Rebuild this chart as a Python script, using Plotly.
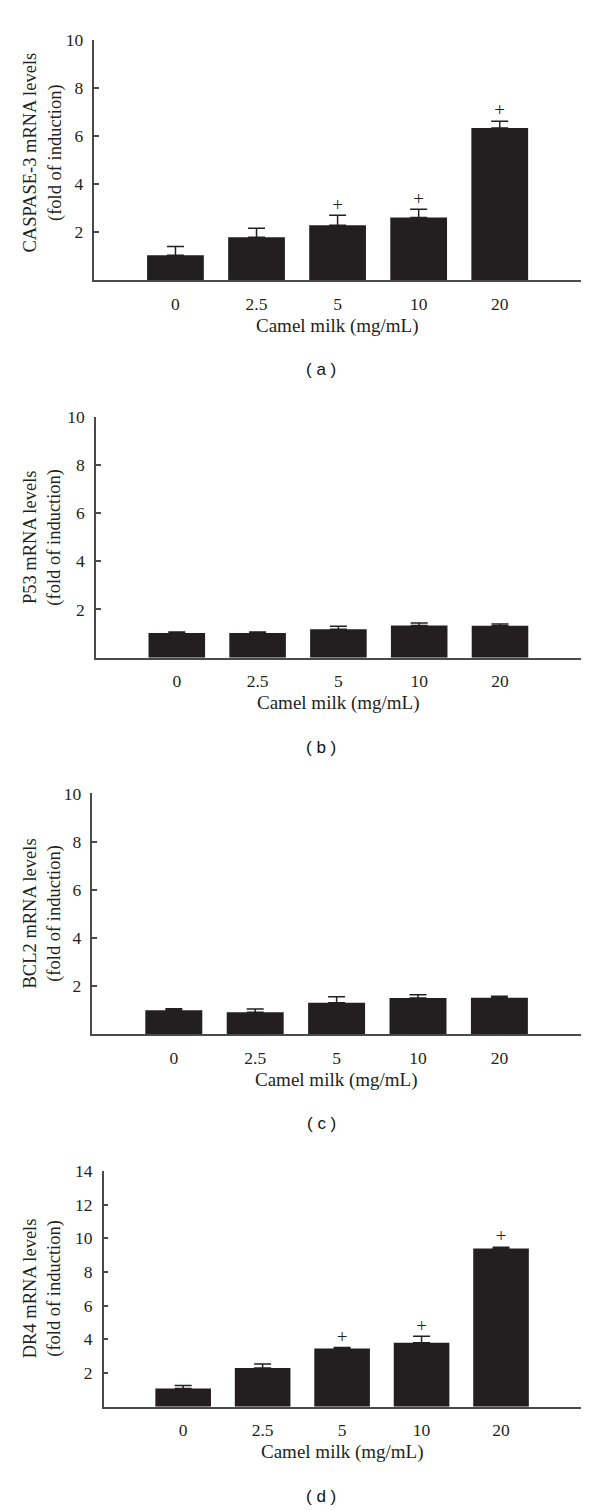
import plotly.graph_objects as go

# ---------------- data ----------------
doses = ["0", "2.5", "5", "10", "20"]

casp3_mean = [1.03, 1.78, 2.28, 2.60, 6.33]
casp3_err = [0.36, 0.37, 0.41, 0.34, 0.28]
casp3_sig = ["", "", "+", "+", "+"]

p53_mean = [1.02, 1.02, 1.18, 1.33, 1.32]
p53_err = [0.05, 0.05, 0.12, 0.11, 0.08]
p53_sig = ["", "", "", "", ""]

bcl2_mean = [1.00, 0.92, 1.32, 1.51, 1.52]
bcl2_err = [0.07, 0.14, 0.25, 0.14, 0.07]
bcl2_sig = ["", "", "", "", ""]

dr4_mean = [1.08, 2.30, 3.46, 3.79, 9.39]
dr4_err = [0.18, 0.23, 0.06, 0.39, 0.08]
dr4_sig = ["", "", "+", "+", "+"]

panels = [
    dict(mean=casp3_mean, err=casp3_err, sig=casp3_sig, ymax=10,
         yticks=[2, 4, 6, 8, 10], ytitle="CASPASE-3 mRNA levels<br>(fold of induction)",
         label="( a )", px_x=(94.4, 580.8), px_y=(30.0, 271.7), ytitle_y=144),
    dict(mean=p53_mean, err=p53_err, sig=p53_sig, ymax=10,
         yticks=[2, 4, 6, 8, 10], ytitle="P53 mRNA levels<br>(fold of induction)",
         label="( b )", px_x=(96.0, 580.8), px_y=(409.3, 652.0), ytitle_y=None),
    dict(mean=bcl2_mean, err=bcl2_err, sig=bcl2_sig, ymax=10,
         yticks=[2, 4, 6, 8, 10], ytitle="BCL2 mRNA levels<br>(fold of induction)",
         label="( c )", px_x=(92.4, 580.8), px_y=(788.7, 1031.3), ytitle_y=None),
    dict(mean=dr4_mean, err=dr4_err, sig=dr4_sig, ymax=14,
         yticks=[2, 4, 6, 8, 10, 12, 14], ytitle="DR4 mRNA levels<br>(fold of induction)",
         label="( d )", px_x=(103.7, 580.5), px_y=(1168.7, 1406.0), ytitle_y=None),
]

W, H = 600, 1510
INK = "#231f20"
AXC = "#4a4a4a"
SERIF = "Liberation Serif, Times New Roman, serif"
SANS = "Liberation Sans, Arial, sans-serif"

fig = go.Figure()
layout = dict(
    width=W, height=H,
    margin=dict(l=0, r=0, t=0, b=0),
    paper_bgcolor="white", plot_bgcolor="white",
    showlegend=False,
    font=dict(family=SERIF, color=INK),
)
annotations = []

def px2x(p):
    return p / W

def px2y(p):
    return 1 - p / H

for i, p in enumerate(panels, start=1):
    xa = "x" if i == 1 else f"x{i}"
    ya = "y" if i == 1 else f"y{i}"
    xkey = "xaxis" if i == 1 else f"xaxis{i}"
    ykey = "yaxis" if i == 1 else f"yaxis{i}"

    fig.add_trace(go.Bar(
        x=doses, y=p["mean"], xaxis=xa, yaxis=ya,
        marker=dict(color=INK, line=dict(width=0)),
        width=0.7,
        error_y=dict(type="data", symmetric=False, array=p["err"],
                     arrayminus=[0] * len(p["err"]),
                     color=INK, thickness=1.5, width=8.5),
    ))
    tops = [m + e for m, e in zip(p["mean"], p["err"])]
    if any(p["sig"]):
        fig.add_trace(go.Scatter(
            x=doses, y=tops, xaxis=xa, yaxis=ya, mode="text",
            text=p["sig"], textposition="top center",
            textfont=dict(family=SERIF, size=19, color=INK),
            cliponaxis=False, hoverinfo="skip",
        ))

    x0, x1 = p["px_x"]
    ytop, ybot = p["px_y"]
    layout[xkey] = dict(
        domain=[px2x(x0), px2x(x1)], anchor=ya,
        type="category", range=[-1, 5],
        showline=True, linecolor=AXC, linewidth=1.5,
        ticks="", showgrid=False, zeroline=False,
        tickfont=dict(family=SERIF, size=17.5, color=INK),
        ticklabelstandoff=7,
    )
    layout[ykey] = dict(
        domain=[px2y(ybot), px2y(ytop)], anchor=xa,
        range=[0, p["ymax"]], tickvals=p["yticks"],
        showline=True, linecolor=AXC, linewidth=1.5,
        ticks="inside", ticklen=5, tickwidth=1.5, tickcolor=AXC,
        showgrid=False, zeroline=False,
        tickfont=dict(family=SERIF, size=17.5, color=INK),
        ticklabelstandoff=6,
    )

    # y title
    yc = p["ytitle_y"] if p["ytitle_y"] is not None else (ytop + ybot) / 2
    annotations.append(dict(
        text=p["ytitle"], textangle=-90, xref="paper", yref="paper",
        x=px2x(42.5), y=px2y(yc), xanchor="center", yanchor="middle",
        showarrow=False, font=dict(family=SERIF, size=18.5, color=INK),
    ))
    # x title
    annotations.append(dict(
        text="Camel milk (mg/mL)", xref="paper", yref="paper",
        x=px2x((x0 + x1) / 2), y=px2y(ybot + 46), xanchor="center", yanchor="middle",
        showarrow=False, font=dict(family=SERIF, size=19, color=INK),
    ))
    # panel label
    annotations.append(dict(
        text=p["label"], xref="paper", yref="paper",
        x=px2x(321), y=px2y(ybot + 90), xanchor="center", yanchor="middle",
        showarrow=False, font=dict(family=SANS, size=17, color="#111111"),
    ))

layout["annotations"] = annotations
fig.update_layout(**layout)
fig.write_html(
    "out.html",
    config={"displayModeBar": False},
    post_script="document.body.style.margin='0';document.body.style.overflow='hidden';",
)
